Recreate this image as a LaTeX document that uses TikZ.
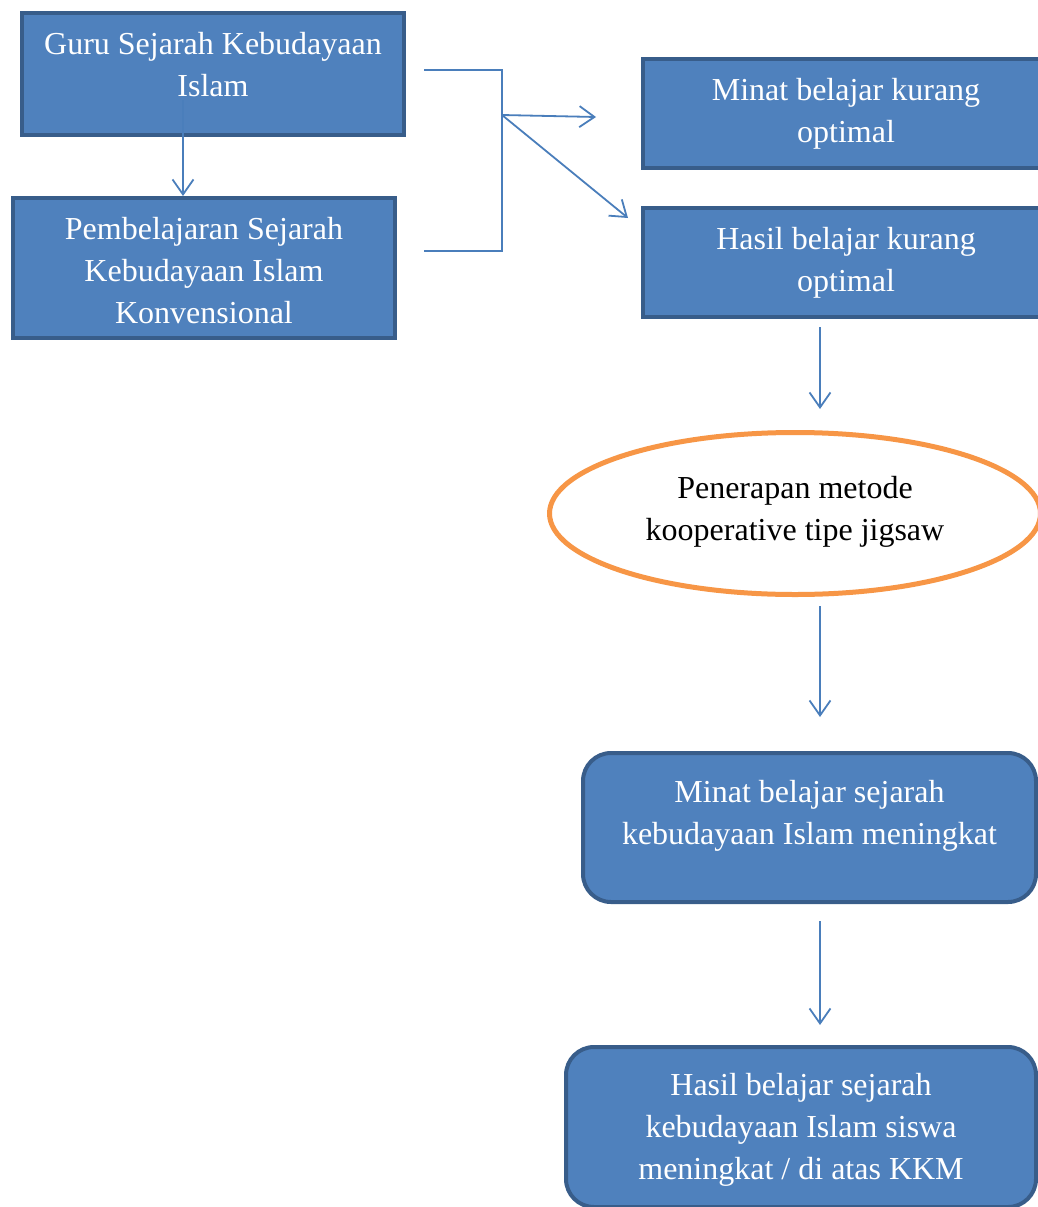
\documentclass[tikz,border=0pt]{standalone}
\usepackage{fontspec}
\setmainfont{Liberation Serif}
\usetikzlibrary{positioning, shapes.geometric, arrows.meta}
\definecolor{boxFill}{HTML}{4F81BD}
\definecolor{boxLine}{HTML}{385D8A}
\definecolor{linkBlue}{HTML}{4A7EBB}
\definecolor{ovalLine}{HTML}{F79646}
\newcommand{\lowstrut}[1]{\rule[-#1]{0pt}{#1}}
\newcommand{\upstrut}[1]{\rule{0pt}{#1}}

\begin{document}
\begin{tikzpicture}[
    x=1pt, y=-1pt,
    box/.style={draw=boxLine, fill=boxFill, line width=4pt, inner sep=0pt, text=white, align=center, font=\fontsize{32}{42}\selectfont},
    roundbox/.style={box, rounded corners=28pt},
    oval/.style={ellipse, draw=ovalLine, line width=5pt, fill=white, inner sep=0pt, align=center, font=\fontsize{32}{42}\selectfont},
    joint/.style={draw=linkBlue, line width=1.8pt},
    link/.style={joint, -{Straight Barb[length=15pt, width=21pt]}}
]
\useasboundingbox (0,0) rectangle (1038,1207);

\node[box, minimum width=382pt, minimum height=122pt] (guru) at (213,74) {Guru Sejarah Kebudayaan\\Islam\lowstrut{20pt}};
\node[box, minimum width=382pt, minimum height=140pt, below=59pt of guru, xshift=-9pt] (konv) {\upstrut{28pt}Pembelajaran Sejarah\\Kebudayaan Islam\\Konvensional};

\node[box, minimum width=406pt, minimum height=109pt] (minat) at (846,113.5) {Minat belajar kurang\\optimal};
\node[box, minimum width=406pt, minimum height=109pt, below=36pt of minat] (hasil) {Hasil belajar kurang\\optimal};

\node[oval, minimum width=491pt, minimum height=162pt] (jigsaw) at (795,513.5) {Penerapan metode\\kooperative tipe jigsaw\lowstrut{11pt}};

\node[roundbox, minimum width=453pt, minimum height=149pt] (naik) at (809.5,827.5) {Minat belajar sejarah\\kebudayaan Islam meningkat\lowstrut{30pt}};
\node[roundbox, minimum width=470pt, minimum height=160pt] (kkm) at (801,1127) {\upstrut{28pt}Hasil belajar sejarah\\kebudayaan Islam siswa\\meningkat / di atas KKM};

% left column
\coordinate (g1) at (183,100);
\draw[link] (g1) -- (g1 |- konv.north);

% bracket joining both boxes
\coordinate (gtop) at (424,70);
\coordinate (gbot) at (424,251);
\coordinate (split) at (502,115);
\draw[joint] (gtop) -- (gtop -| split) -- (gbot -| split) -- (gbot);
\coordinate (tipC) at (596,117);
\coordinate (tipD) at (628,218);
\draw[link] (split) -- (tipC);
\draw[link] (split) -- (tipD);

% right column
\coordinate (ax) at (820,0);
\draw[link, shorten <=8pt, shorten >=21pt] (hasil.south -| ax) -- (jigsaw.north -| ax);
\draw[link, shorten <=9pt, shorten >=34pt] (jigsaw.south -| ax) -- (naik.north -| ax);
\draw[link, shorten <=17pt, shorten >=20pt] (naik.south -| ax) -- (kkm.north -| ax);
\end{tikzpicture}
\end{document}
